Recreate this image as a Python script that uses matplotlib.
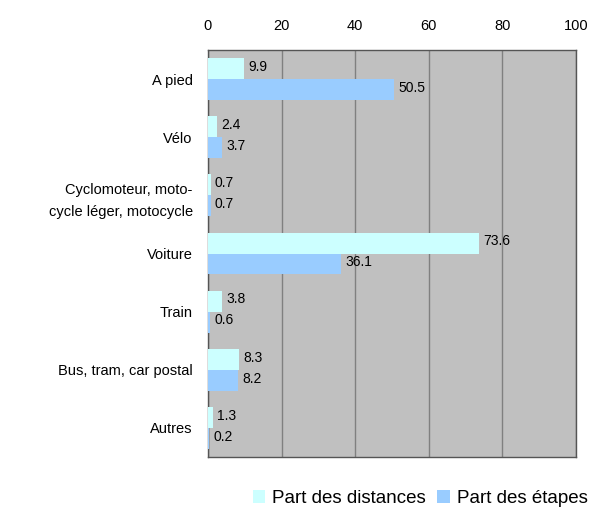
import matplotlib.pyplot as plt
import numpy as np

plt.rcParams['font.family'] = ['Liberation Sans', 'DejaVu Sans']

categories = ['A pied', 'Vélo', 'Cyclomoteur, moto-\ncycle léger, motocycle',
              'Voiture', 'Train', 'Bus, tram, car postal', 'Autres']
part_distances = [9.9, 2.4, 0.7, 73.6, 3.8, 8.3, 1.3]
part_etapes = [50.5, 3.7, 0.7, 36.1, 0.6, 8.2, 0.2]

dist_c = '#CCFFFF'
etap_c = '#99CCFF'

fig = plt.figure(figsize=(5.9, 5.11), dpi=100)
ax = fig.add_axes([0.3525, 0.1057, 0.6235, 0.7963])

y = np.arange(len(categories))
h = 0.36
b1 = ax.barh(y - h / 2, part_distances, height=h, color=dist_c, label='Part des distances', zorder=3)
b2 = ax.barh(y + h / 2, part_etapes, height=h, color=etap_c, label='Part des étapes', zorder=3)

for bars, vals in ((b1, part_distances), (b2, part_etapes)):
    for bar, v in zip(bars, vals):
        ax.text(v + 1.2, bar.get_y() + bar.get_height() / 2 - 0.03, f'{v:.1f}',
                va='center', ha='left', fontsize=10, zorder=4)

ax.set_xlim(0, 100)
ax.set_ylim(len(categories) - 0.5, -0.5)
ax.set_facecolor('#C0C0C0')
ax.set_xticks([0, 20, 40, 60, 80, 100])
ax.xaxis.tick_top()
ax.tick_params(axis='x', length=0, pad=12, labelsize=10.5)
ax.set_yticks(y)
ax.set_yticklabels(categories, fontsize=10.5, linespacing=1.7)
ax.tick_params(axis='y', length=0, pad=11)
for lbl in ax.get_yticklabels():
    lbl.set_horizontalalignment('right')
ax.grid(axis='x', color='#808080', lw=1, zorder=1)
for s in ax.spines.values():
    s.set_color('#555555')
    s.set_linewidth(1)

fig.legend(handles=[b1, b2], loc='lower right', bbox_to_anchor=(1.025, -0.025), ncol=2,
           frameon=False, fontsize=13.5, handlelength=0.65, handleheight=0.65,
           handletextpad=0.4, columnspacing=0.6)

plt.savefig('out.png', dpi=100)
